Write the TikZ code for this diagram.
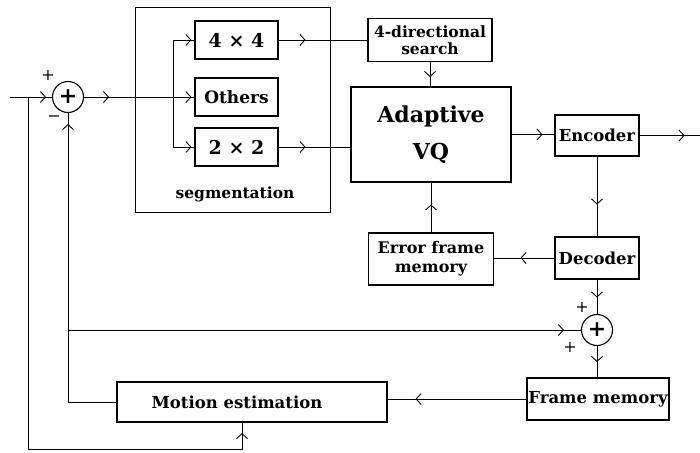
\documentclass[tikz,border=0pt]{standalone}
\usepackage{fontspec}
\setmainfont{DejaVu Serif}
\usetikzlibrary{arrows.meta,decorations.markings}
\begin{document}
\begin{tikzpicture}[x=1pt,y=-1pt,line width=0.9pt,
  marr/.style={postaction={decorate},decoration={markings,
     mark=at position #1 with {\arrow{Straight Barb[length=5pt,width=11pt,line width=0.9pt]}}}},
  blk/.style={draw,line width=1.1pt,inner sep=0pt,align=center,font=\fontsize{16.5}{19}\selectfont\bfseries},
  sumc/.style={draw,circle,line width=1.1pt,minimum size=31pt,inner sep=0pt,font=\fontsize{22}{22}\selectfont\bfseries},
  sgn/.style={font=\fontsize{16}{16}\selectfont,inner sep=0pt}]
\useasboundingbox (0,0) rectangle (700,452);
% nodes
\coordinate (in) at (10,97);
\coordinate (j0) at (28,97);
\node[sumc] (s1) at (68,97) {+};
\coordinate (j1) at (173,97);
\node[draw,line width=0.9pt,minimum width=195pt,minimum height=205pt,inner sep=0pt] (seg) at (232.5,109.5) {};
\node[inner sep=0pt,font=\fontsize{15.5}{15.5}\selectfont\bfseries] (segl) at (235,194) {segmentation};
\node[blk,minimum width=83pt,minimum height=38pt,font=\fontsize{19}{19}\selectfont\bfseries] (b44) at (236.5,40) {4 × 4};
\node[blk,minimum width=83pt,minimum height=38pt,font=\fontsize{17}{19}\selectfont\bfseries] (bot) at (236.5,97) {Others};
\node[blk,minimum width=83pt,minimum height=38pt,font=\fontsize{19}{19}\selectfont\bfseries] (b22) at (236.5,147) {2 × 2};
\node[blk,minimum width=124pt,minimum height=43pt,font=\fontsize{15.5}{17}\selectfont\bfseries] (dir) at (430,40) {4-directional\\search};
\node[blk,minimum width=160pt,minimum height=95pt,font=\fontsize{22}{37}\selectfont\bfseries] (avq) at (431,134.5) {Adaptive\\VQ};
\node[blk,minimum width=84pt,minimum height=41pt] (enc) at (597,135.5) {Encoder};
\coordinate (out) at (700,135.5);
\node[blk,minimum width=84pt,minimum height=42pt] (dec) at (597,258) {Decoder};
\node[blk,minimum width=125pt,minimum height=52pt,font=\fontsize{16}{19}\selectfont\bfseries] (efm) at (431,259) {Error frame\\memory};
\node[sumc] (s2) at (597,330) {+};
\node[blk,minimum width=142pt,minimum height=42pt] (fm) at (598,399) {Frame memory};
\node[blk,minimum width=270pt,minimum height=40pt] (me) at (252,402) {};
\node[inner sep=0pt,font=\fontsize{16.5}{19}\selectfont\bfseries] (mel) at (237,402) {Motion estimation};
\coordinate (j2) at (68,330);
\coordinate (cb) at (28,449);
\coordinate (mein) at (242,422);
% signs
\node[sgn] (p1) at (48,75) {+};
\node[sgn] (m1) at (54,119) {−};
\node[sgn] (p2) at (582,307) {+};
\node[sgn] (p3) at (570,347) {+};
% connectors
\draw[marr=-6pt] (in) -- (s1.west);
\draw[marr=25pt] (s1.east) -- (j1);
\draw[marr=-3pt] (j1) -- (bot.west);
\draw[marr=-3pt] (j1) |- (b44.west);
\draw[marr=-3pt] (j1) |- (b22.west);
\draw[marr=27pt] (b44.east) -- (b44.east -| dir.west);
\draw[marr=27pt] (b22.east) -- (b22.east -| avq.west);
\draw[marr=15pt] (dir.south) -- (dir.south |- avq.north);
\draw[marr=31pt] (avq.east) -- (avq.east -| enc.west);
\draw[marr=45pt] (enc.east) -- (out);
\draw[marr=48pt] (enc.south) -- (dec.north);
\draw[marr=34pt] (dec.west) -- (dec.west -| efm.east);
\draw[marr=28pt] (efm.north) -- (efm.north |- avq.south);
\draw[marr=18pt] (dec.south) -- (s2.north);
\draw[marr=16pt] (s2.south) -- (s2.south |- fm.north);
\draw[marr=-28pt] (fm.west) -- (fm.west -| me.east);
\draw[marr=-11pt] (me.west) -| (s1.south);
\draw[marr=-17pt] (j2) -- (s2.west);
\draw[marr=-11pt] (j0) -- (cb) -| (mein);
\end{tikzpicture}
\end{document}
